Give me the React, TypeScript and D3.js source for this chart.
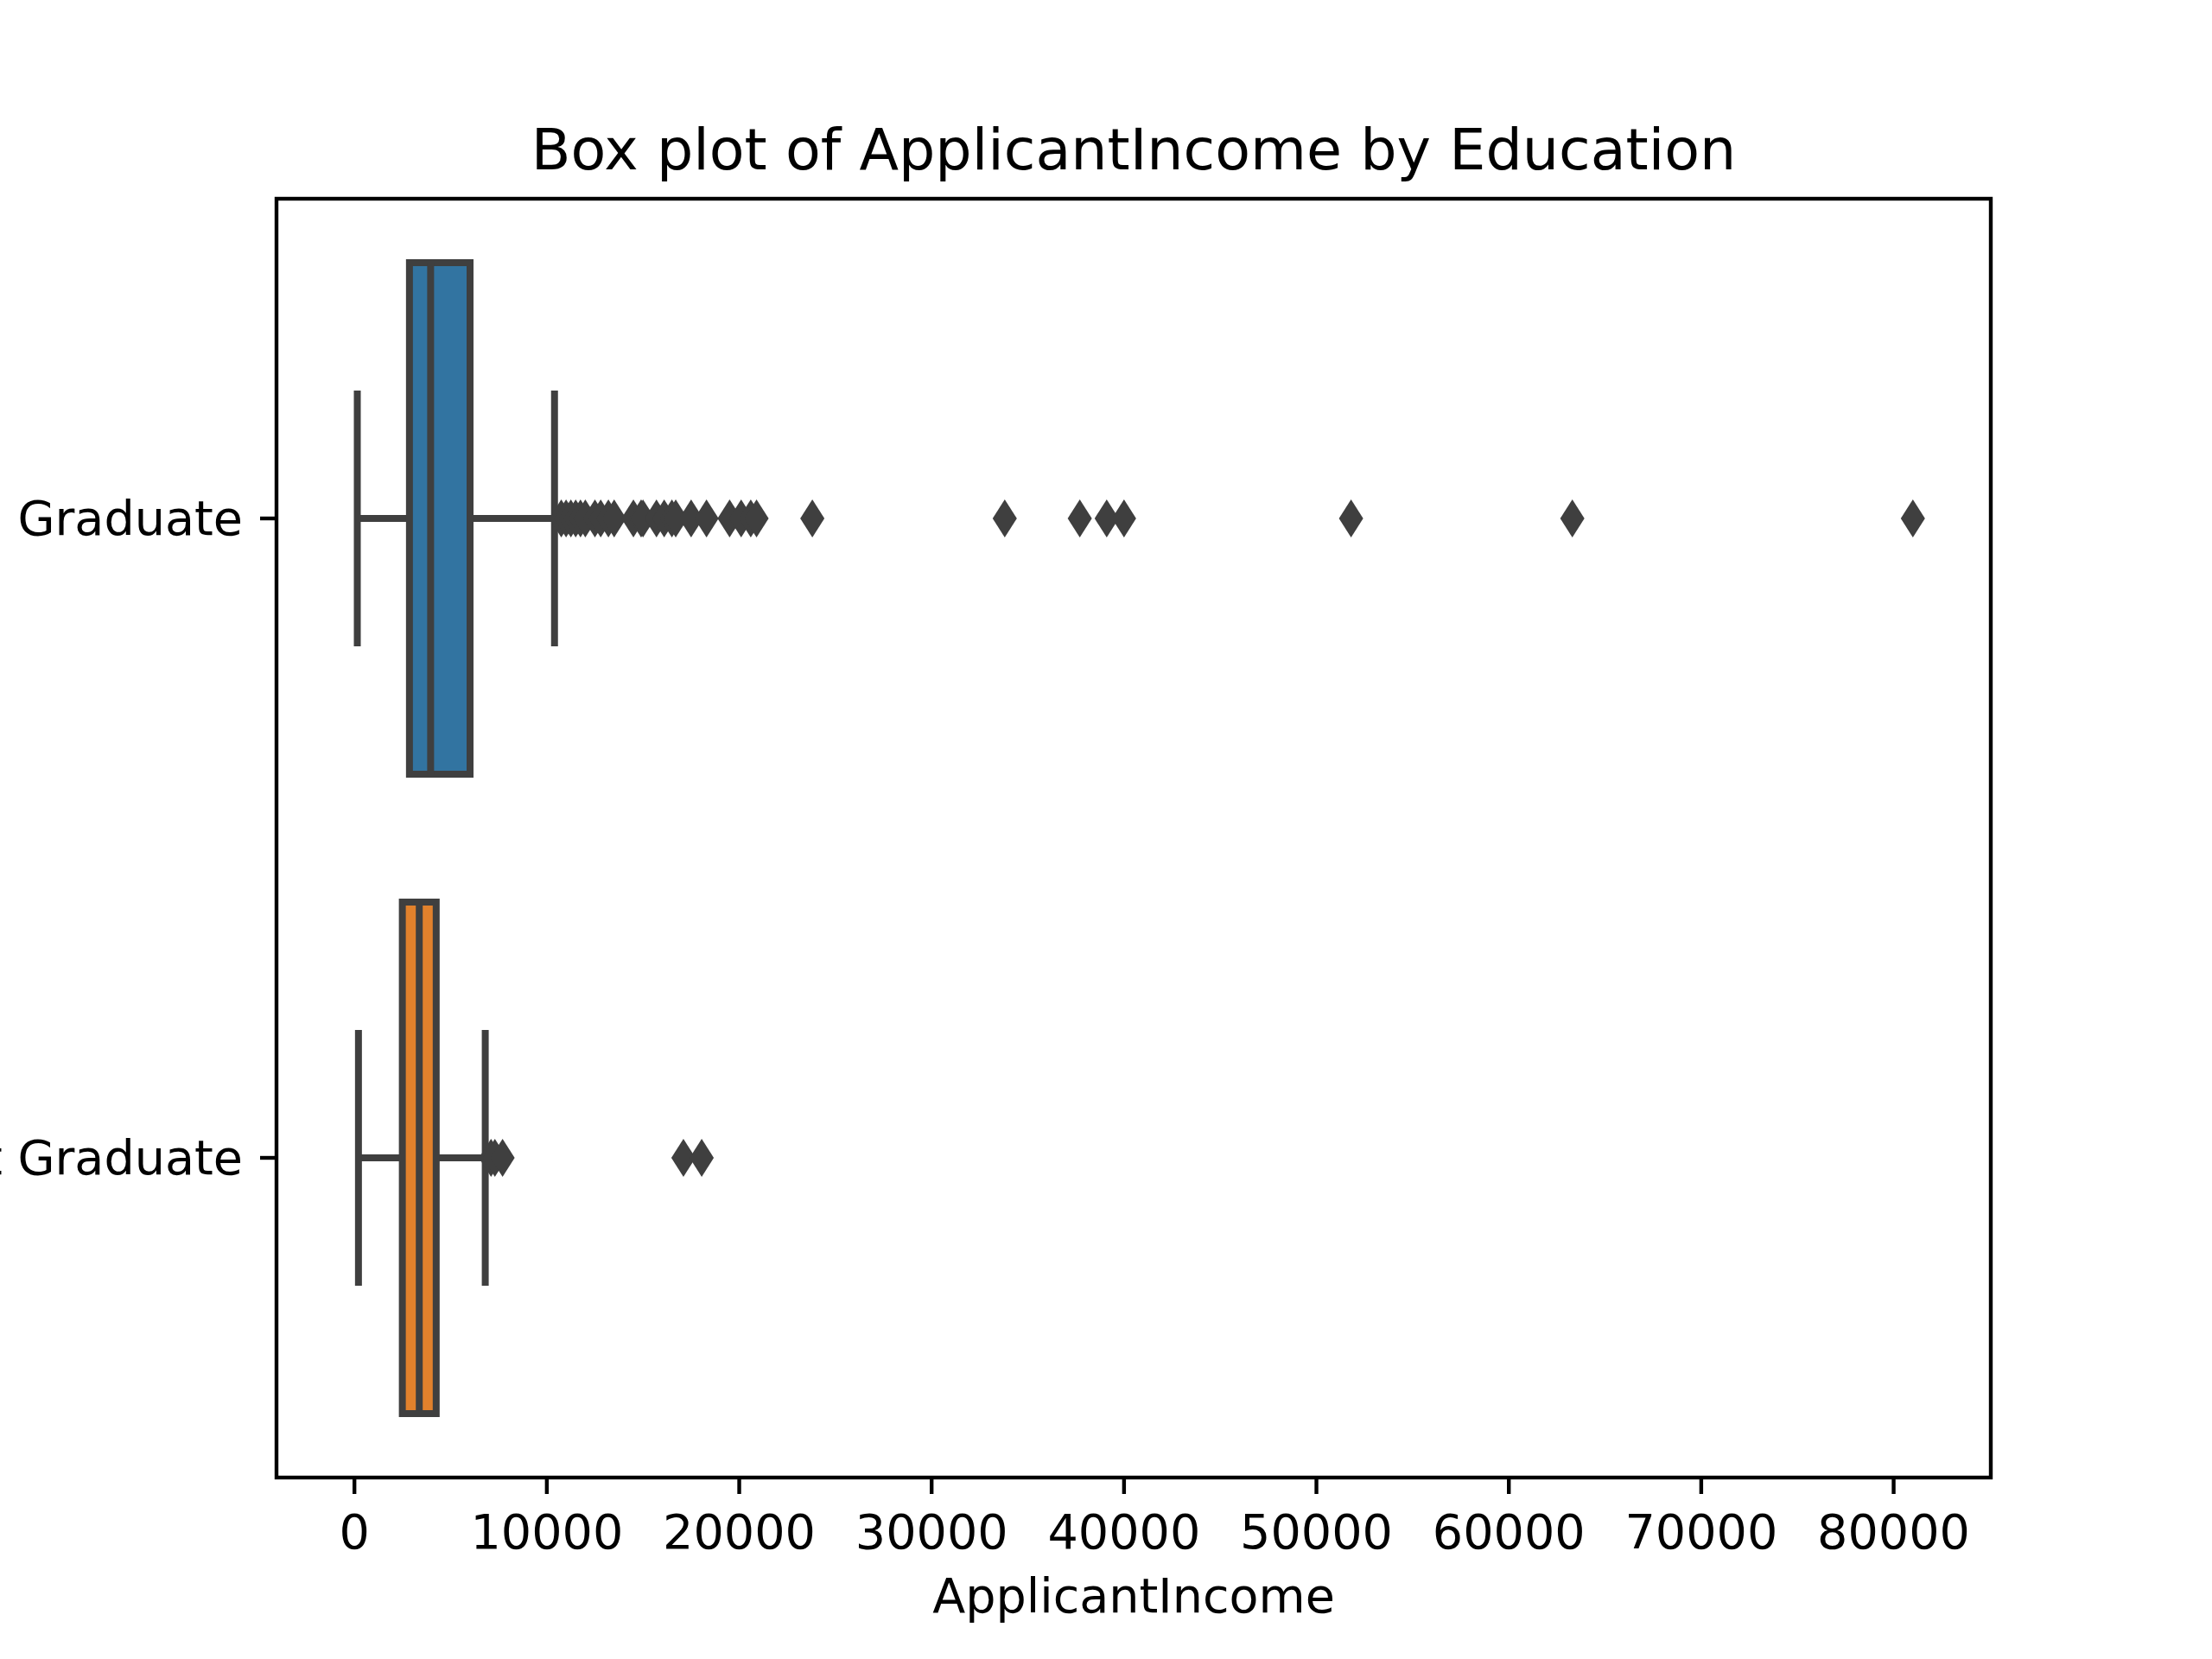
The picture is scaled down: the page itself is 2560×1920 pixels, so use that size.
import React from "react";
import * as d3 from "d3";

const categories = ["Graduate", "Not Graduate"];
const colors = ["#3274a1", "#e1812c"];
// [whiskerLow, q1, median, q3, whiskerHigh]
const stats = [
  [150, 2860, 3960, 6010, 10400],
  [210, 2490, 3370, 4250, 6800],
];
const outliers = [
  [10750, 11000, 11250, 11500, 11750, 12000, 12500, 12800, 13200, 13500, 14500, 14900,
   15000, 15700, 16100, 16500, 16700, 17500, 18300, 19500, 20100, 20600, 20900,
   23800, 33800, 37700, 39100, 39999, 51800, 63300, 81000],
  [7100, 7300, 7700, 17100, 18050],
];
const xTicks = [0, 10000, 20000, 30000, 40000, 50000, 60000, 70000, 80000];

export default function App() {
  const W = 2560, H = 1920;
  const L = 320, R = 2304, T = 230, B = 1710;
  const x = d3.scaleLinear().domain([-4050, 85050]).range([L, R]);
  const y = d3.scaleBand().domain(categories).range([T, B]);
  const bw = y.bandwidth() * 0.8;
  const line = "#3f3f3f", lw = 8;
  const font = "DejaVu Sans";
  const diamond = (cx: number, cy: number) => {
    const h = 22, w = 14;
    return `M${cx},${cy - h}L${cx + w},${cy}L${cx},${cy + h}L${cx - w},${cy}Z`;
  };
  return (
    <svg width={W} height={H} style={{ position: "absolute", left: 0, top: 0 }} fontFamily={font}>
      <rect width={W} height={H} fill="#fff" />
      {categories.map((c, i) => {
        const [lo, q1, med, q3, hi] = stats[i];
        const cy = y(c)! + y.bandwidth() / 2;
        return (
          <g key={c}>
            <line x1={x(lo)} x2={x(q1)} y1={cy} y2={cy} stroke={line} strokeWidth={lw} />
            <line x1={x(q3)} x2={x(hi)} y1={cy} y2={cy} stroke={line} strokeWidth={lw} />
            <line x1={x(lo)} x2={x(lo)} y1={cy - bw / 4} y2={cy + bw / 4} stroke={line} strokeWidth={lw} />
            <line x1={x(hi)} x2={x(hi)} y1={cy - bw / 4} y2={cy + bw / 4} stroke={line} strokeWidth={lw} />
            <rect x={x(q1)} y={cy - bw / 2} width={x(q3) - x(q1)} height={bw} fill={colors[i]} stroke={line} strokeWidth={lw} />
            <line x1={x(med)} x2={x(med)} y1={cy - bw / 2} y2={cy + bw / 2} stroke={line} strokeWidth={lw} />
            {outliers[i].map((v, j) => (
              <path key={j} d={diamond(x(v), cy)} fill={line} />
            ))}
          </g>
        );
      })}
      <rect x={L} y={T} width={R - L} height={B - T} fill="none" stroke="#000" strokeWidth={4.4} />
      {xTicks.map((t) => (
        <g key={t}>
          <line x1={x(t)} x2={x(t)} y1={B} y2={B + 19} stroke="#000" strokeWidth={4.4} />
          <text x={x(t)} y={B + 82} textAnchor="middle" fontSize={55.6}>{t}</text>
        </g>
      ))}
      {categories.map((c) => {
        const cy = y(c)! + y.bandwidth() / 2;
        return (
          <g key={c}>
            <line x1={L - 19} x2={L} y1={cy} y2={cy} stroke="#000" strokeWidth={4.4} />
            <text x={L - 39} y={cy} dy="0.35em" textAnchor="end" fontSize={55.6}>{c}</text>
          </g>
        );
      })}
      <text x={(L + R) / 2} y={1866} textAnchor="middle" fontSize={55.6}>ApplicantIncome</text>
      <text x={(L + R) / 2} y={196} textAnchor="middle" fontSize={66.7}>Box plot of ApplicantIncome by Education</text>
    </svg>
  );
}
